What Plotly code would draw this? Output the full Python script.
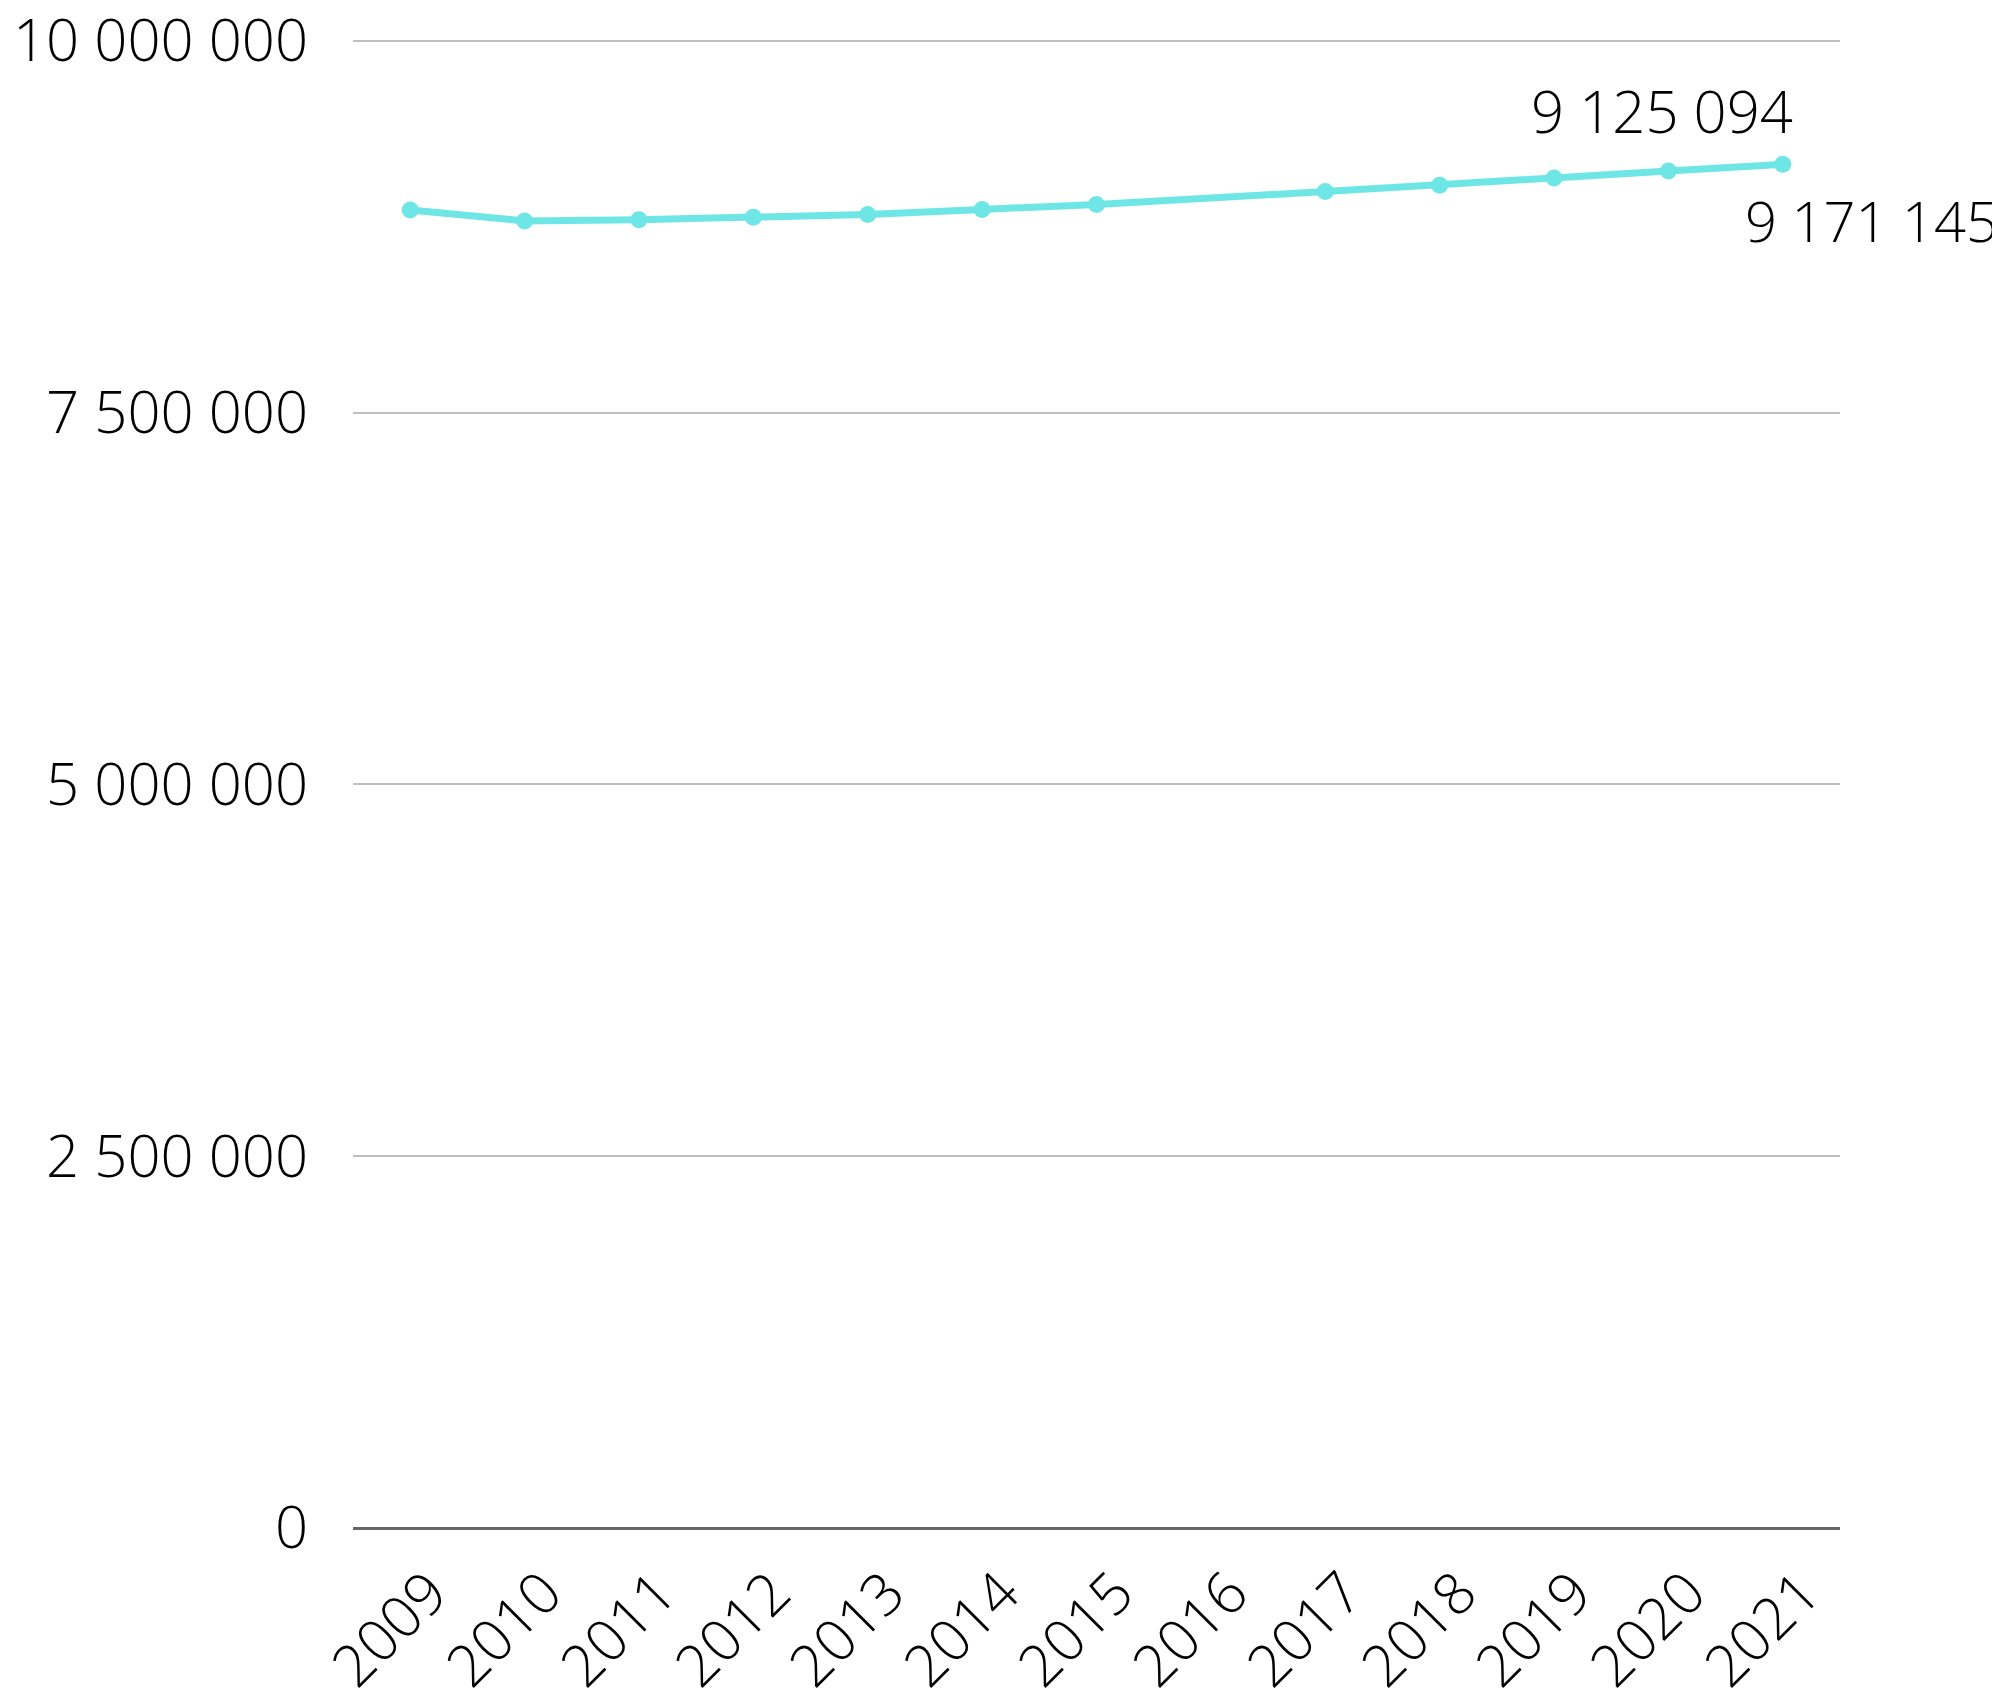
import plotly.graph_objects as go

years = ["2009", "2010", "2011", "2012", "2013", "2014", "2015", "2016",
         "2017", "2018", "2019", "2020", "2021"]
population = [8864000, 8790000, 8798000, 8815000, 8833000, 8867000, 8901000, None,
              8987000, 9030000, 9079000, 9125094, 9171145]
y_ticks = [0, 2500000, 5000000, 7500000, 10000000]

LINE_COLOR = "#6EE6E6"
FONT = "Open Sans"
FS = 58


def fmt(v):
    return f"{v:,}".replace(",", " ")


fig = go.Figure()
fig.add_trace(go.Scatter(
    x=years, y=population, mode="lines+markers",
    line=dict(color=LINE_COLOR, width=7),
    marker=dict(color=LINE_COLOR, size=17),
    connectgaps=True, hoverinfo="skip", showlegend=False,
))

fig.add_annotation(x=11, y=population[11], xref="x", yref="y", text=fmt(population[11]),
                   showarrow=False, xanchor="center", yanchor="middle",
                   xshift=-6, yshift=61,
                   font=dict(family=FONT, size=FS, color="#000000", weight=300))
fig.add_annotation(x=12, y=population[12], xref="x", yref="y", text=fmt(population[12]),
                   showarrow=False, xanchor="left", yanchor="middle",
                   xshift=-40, yshift=-56,
                   font=dict(family=FONT, size=56, color="#000000", weight=300))

fig.update_layout(
    width=1984, height=1685,
    margin=dict(l=345, r=152, t=30, b=165, autoexpand=False),
    paper_bgcolor="white", plot_bgcolor="white",
    separators=". ",
    font=dict(family=FONT, size=FS, color="#000000", weight=300),
    xaxis=dict(
        type="category", categoryorder="array", categoryarray=years,
        range=[-0.5, 12.5], showgrid=False, showline=False, zeroline=False,
        tickangle=-45, ticks="", ticklabelstandoff=18, ticklabelshift=20,
        tickfont=dict(family=FONT, size=FS, color="#000000", weight=300),
    ),
    yaxis=dict(
        range=[0, 10020000], tickvals=y_ticks, tickformat=",d",
        showgrid=True, gridcolor="#BFBFBF", gridwidth=1.5,
        zeroline=True, zerolinecolor="#666666", zerolinewidth=2.5,
        showline=False, ticks="", ticklabelstandoff=44,
        ticklabeloverflow="allow",
        tickfont=dict(family=FONT, size=FS, color="#000000", weight=300),
    ),
)

fig.write_html("out.html", config={"displayModeBar": False})
